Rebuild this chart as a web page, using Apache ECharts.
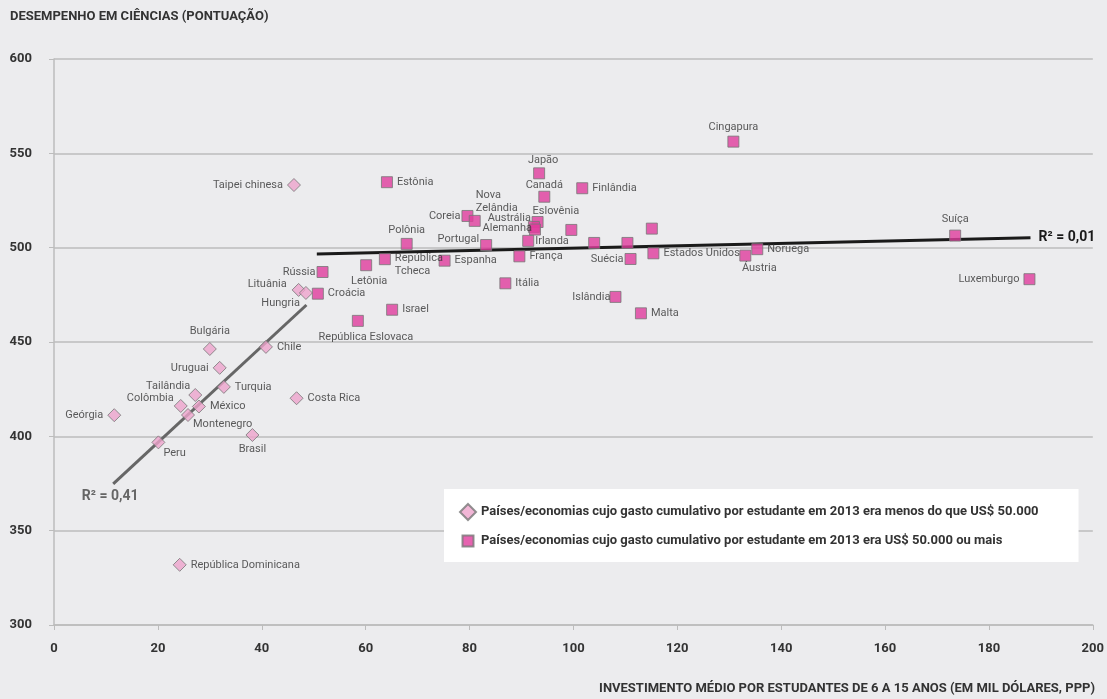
<!DOCTYPE html>
<html><head><meta charset="utf-8">
<script src="https://cdn.jsdelivr.net/npm/echarts@6/dist/echarts.min.js"></script>
<style>html,body{margin:0;padding:0;background:#ececee}#c{width:1107px;height:699px}</style>
</head><body><div id="c"></div>
<script>
// ---- data ----
const titleText = 'DESEMPENHO EM CIÊNCIAS (PONTUAÇÃO)';
const xAxisTitle = 'INVESTIMENTO MÉDIO POR ESTUDANTES DE 6 A 15 ANOS (EM MIL DÓLARES, PPP)';
const legendLabels = [
  'Países/economias cujo gasto cumulativo por estudante em 2013 era menos do que US$ 50.000',
  'Países/economias cujo gasto cumulativo por estudante em 2013 era US$ 50.000 ou mais'
];
const lowNames = ['Taipei chinesa','Lituânia','Hungria','Bulgária','Chile','Uruguai','Turquia','Tailândia','Colômbia','México','Montenegro','Geórgia','Costa Rica','Brasil','Peru','República Dominicana'];
const lowX = [46.2, 47.1, 48.5, 30.0, 40.8, 31.9, 32.7, 27.2, 24.4, 27.9, 25.8, 11.6, 46.7, 38.2, 20.1, 24.2];
const lowY = [533.2, 477.6, 476.0, 446.3, 447.4, 436.3, 426.2, 421.9, 416.1, 415.8, 411.3, 411.2, 420.2, 400.7, 396.8, 331.9];
const highNames = ['Estônia','Polônia','República\nTcheca','Letônia','Rússia','Croácia','Israel','República Eslovaca','Japão','Canadá','Finlândia','Coreia','Nova\nZelândia','Eslovênia','Austrália','Alemanha','Portugal','Irlanda','Espanha','França','Itália','','','','','Suécia','Estados Unidos','Islândia','Malta','Cingapura','Noruega','Áustria','Suíça','Luxemburgo'];
const highX = [64.1, 67.9, 63.7, 60.1, 51.7, 50.8, 65.1, 58.5, 93.4, 94.4, 101.7, 79.6, 81.0, 93.1, 92.4, 92.6, 83.2, 91.3, 75.2, 89.6, 86.9, 99.6, 104.0, 110.4, 115.1, 111.0, 115.4, 108.1, 113.0, 130.8, 135.4, 133.1, 173.5, 187.8];
const highY = [534.7, 502.0, 493.9, 490.7, 487.1, 475.6, 467.1, 461.2, 539.4, 527.0, 531.5, 516.8, 514.2, 513.6, 511.0, 509.6, 501.4, 503.6, 493.1, 495.4, 481.1, 509.4, 502.5, 502.5, 510.1, 494.0, 497.0, 473.9, 465.2, 556.2, 499.2, 495.8, 506.4, 483.3];
const trendLowX = [11.4, 48.6];
const trendLowY = [374.8, 469.6];
const trendHighX = [50.6, 188.0];
const trendHighY = [496.7, 505.3];
const r2Low = 'R² = 0,41';
const r2High = 'R² = 0,01';

// ---- label placement (style) ----
const LBL = {
  'Taipei chinesa':['left'], 'Lituânia':['left',[-1,-6]], 'Hungria':['left',[5,10]],
  'Bulgária':['top'], 'Chile':['right'], 'Uruguai':['left'], 'Turquia':['right'],
  'Tailândia':['left',[6,-9]], 'Colômbia':['left',[4,-8]], 'México':['right'],
  'Montenegro':['right',[-6,9]], 'Geórgia':['left'], 'Costa Rica':['right'],
  'Brasil':['bottom',[0,-3]], 'Peru':['right',[-6,11]], 'República Dominicana':['right'],
  'Estônia':['right'], 'Polônia':['top',[0,3]], 'República\nTcheca':['right',[0,6]],
  'Letônia':['bottom',[3,0]], 'Rússia':['left',[3,0]], 'Croácia':['right'], 'Israel':['right'],
  'República Eslovaca':['bottom',[8,0]], 'Japão':['top',[4,3]], 'Canadá':['top',[0,5]],
  'Finlândia':['right'], 'Coreia':['left',[3,0]], 'Nova\nZelândia':['top',[1,4],'left'],
  'Eslovênia':['top',[-5,6],'left'], 'Austrália':['left',[7,-9]], 'Alemanha':['left',[7,-1]],
  'Portugal':['left',[3,-6]], 'Irlanda':['right',[-3,0]], 'Espanha':['right'], 'França':['right'],
  'Itália':['right'], 'Suécia':['left',[3,0]], 'Estados Unidos':['right'], 'Islândia':['left',[5,0]],
  'Malta':['right'], 'Cingapura':['top',[0,2]], 'Noruega':['right'], 'Áustria':['bottom',[14,-4]],
  'Suíça':['top'], 'Luxemburgo':['left']
};
function build(names, xs, ys) {
  return names.map((n, i) => {
    const c = LBL[n] || ['right'];
    const lab = { show: !!n, position: c[0], offset: c[1] || [0,0], lineHeight: 13 };
    if (c[2]) lab.align = c[2];
    return { name: n, value: [xs[i], ys[i]], label: lab };
  });
}
const F = 'Roboto, "Noto Sans", sans-serif';
const chart = echarts.init(document.getElementById('c'));
chart.setOption({
  backgroundColor: '#ececee',
  animation: false,
  textStyle: { fontFamily: F },
  title: [
    { text: titleText, left: 10, top: 10, padding: 0, textStyle: { fontSize: 13, fontWeight: 'bold', color: '#333', fontFamily: F } },
    { text: xAxisTitle, right: 12, top: 682, padding: 0, textStyle: { fontSize: 13, fontWeight: 'bold', color: '#333', fontFamily: F } }
  ],
  grid: { left: 54, right: 13, top: 59, bottom: 74 },
  legend: {
    orient: 'vertical', left: 444, top: 489,
    backgroundColor: '#ffffff', padding: [14, 40, 12, 15],
    itemWidth: 16, itemHeight: 16, itemGap: 11, itemTextGap: 5,
    textStyle: { fontSize: 13, fontWeight: 'bold', color: '#333', fontFamily: F },
    data: [
      { name: legendLabels[0], icon: 'diamond' },
      { name: legendLabels[1], icon: 'path://M0,0M16,16M2.5,2.5L13.5,2.5L13.5,13.5L2.5,13.5Z' }
    ]
  },
  xAxis: {
    type: 'value', min: 0, max: 200, interval: 20,
    axisLine: { show: true, onZero: false, lineStyle: { color: '#bcbcbc', width: 1.5 } },
    axisTick: { show: true, length: 5, lineStyle: { color: '#bcbcbc' } },
    axisLabel: { margin: 17, fontSize: 13, fontWeight: 'bold', color: '#333', fontFamily: F },
    splitLine: { show: false }
  },
  yAxis: {
    type: 'value', min: 300, max: 600, interval: 50,
    axisLine: { show: true, lineStyle: { color: '#bcbcbc', width: 1.5 } },
    axisTick: { show: true, length: 5, lineStyle: { color: '#bcbcbc' } },
    axisLabel: { margin: 22, fontSize: 13, fontWeight: 'bold', color: '#333', fontFamily: F },
    splitLine: { show: true, lineStyle: { color: '#bcbcbc', width: 1.5 } }
  },
  series: [
    {
      name: 'trendLow', type: 'line', z: 3, symbol: 'none', silent: true,
      data: trendLowX.map((x, i) => [x, trendLowY[i]]),
      lineStyle: { color: '#666', width: 3 },
      markPoint: {
        symbol: 'circle', symbolSize: 0,
        data: [{ coord: [trendLowX[0], trendLowY[0]], value: r2Low }],
        label: { show: true, formatter: r2Low, position: 'bottom', distance: 6, offset: [-3, 0], fontSize: 14, fontWeight: 'bold', color: '#666', fontFamily: F }
      }
    },
    {
      name: 'trendHigh', type: 'line', z: 3, symbol: 'none', silent: true,
      data: trendHighX.map((x, i) => [x, trendHighY[i]]),
      lineStyle: { color: '#1a1a1a', width: 3 },
      markPoint: {
        symbol: 'circle', symbolSize: 0,
        data: [{ coord: [trendHighX[1], trendHighY[1]], value: r2High }],
        label: { show: true, formatter: r2High, position: 'right', distance: 8, fontSize: 14, fontWeight: 'bold', color: '#1a1a1a', fontFamily: F }
      }
    },
    {
      name: legendLabels[0], type: 'scatter', z: 4, symbol: 'diamond', symbolSize: [13, 13],
      itemStyle: { color: '#eda4cc', borderColor: '#777', borderWidth: 1 },
      label: { fontSize: 11, color: '#333', fontFamily: F, distance: 4, formatter: p => p.name },
      data: build(lowNames, lowX, lowY)
    },
    {
      name: legendLabels[1], type: 'scatter', z: 4, symbol: 'rect', symbolSize: [11, 11],
      itemStyle: { color: '#e03c9c', borderColor: '#777', borderWidth: 1 },
      label: { fontSize: 11, color: '#333', fontFamily: F, distance: 4, formatter: p => p.name },
      data: build(highNames, highX, highY)
    }
  ]
});
</script></body></html>
